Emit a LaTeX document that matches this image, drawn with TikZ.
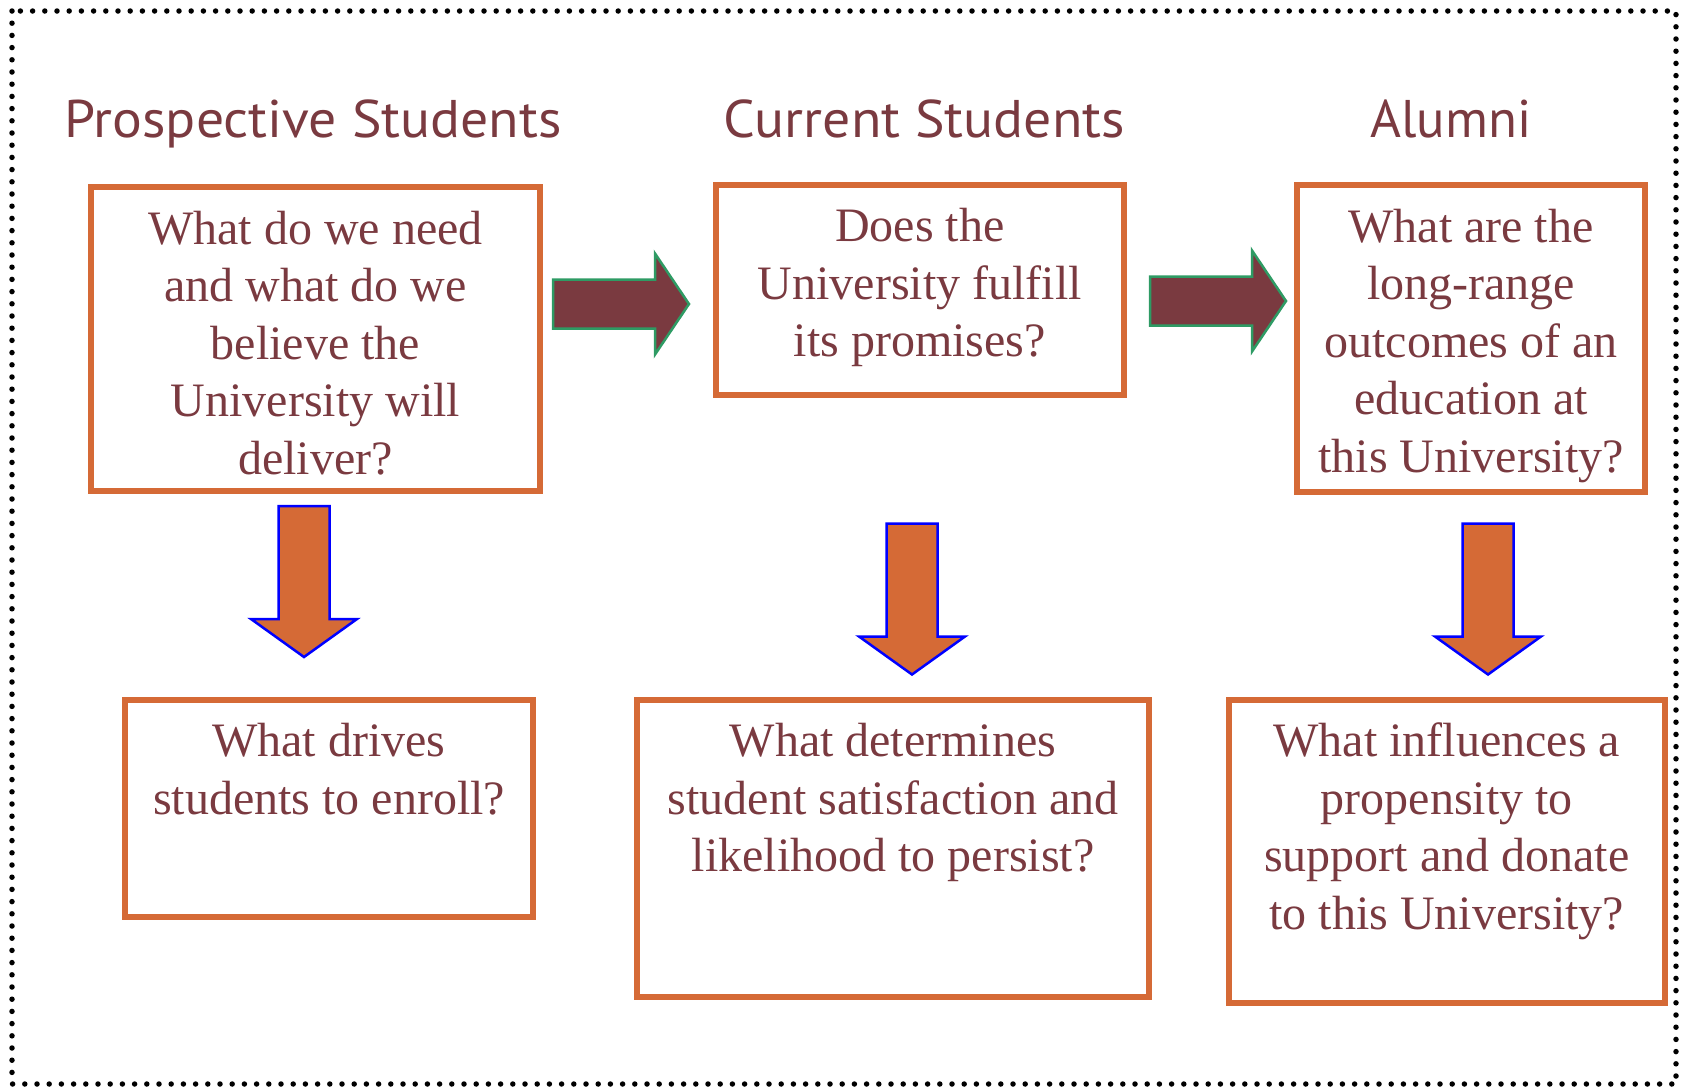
\documentclass[tikz,border=0pt]{standalone}
\usepackage{fontspec}
\usepackage{graphicx}
\setmainfont{Liberation Serif}
\newfontfamily\headfont{PT Sans}
\usetikzlibrary{calc}
\definecolor{wine}{RGB}{122,58,64}
\definecolor{rust}{RGB}{213,106,54}
\definecolor{leaf}{RGB}{46,155,100}
\definecolor{pureblue}{RGB}{0,0,255}
\newdimen\px \px=0.5pt
\newcommand{\headline}[2]{\resizebox{#1\px}{\height}{\headfont\fontsize{26.5}{30}\selectfont #2}}

\begin{document}
\begin{tikzpicture}[x=0.5pt,y=-0.5pt,
  qbox/.style={draw=rust, line width=3pt, inner sep=0pt},
  qtext/.style={text=wine, font=\fontsize{24}{28.75}\selectfont, align=center, anchor=north, inner sep=0pt},
  colhead/.style={text=wine, anchor=base, inner sep=0pt},
  flowarrow/.style={fill=wine, draw=leaf, line width=1.25pt, line join=miter},
  droparrow/.style={fill=rust, draw=pureblue, line width=1.25pt, line join=miter},
  rightblock/.pic={\path[flowarrow] (0,-24.5) -- (102,-24.5) -- (102,-50.5) -- (136,0)
      -- (102,50.5) -- (102,24.5) -- (0,24.5) -- cycle;},
  downblock/.pic={\path[droparrow] (-25.5,0) -- (25.5,0) -- (25.5,113) -- (53,113)
      -- (0,151) -- (-53,113) -- (-25.5,113) -- cycle;},
]
\useasboundingbox (0,0) rectangle (1683,1087);

% dotted frame
\draw[line width=2.75pt, line cap=round, dash pattern=on 0pt off 6.1pt] (12,11) rectangle (1676,1084);

% column headings
\node[colhead] (h1) at (313,137) {\headline{497}{Prospective Students}};
\node[colhead] (h2) at (924.5,137) {\headline{401}{Current Students}};
\node[colhead] (h3) at (1451,137) {\headline{161}{Alumni}};

% question boxes
\node[qbox, minimum width=224.5pt, minimum height=152pt] (b1) at (315.5,339) {};
\node[qbox, minimum width=203.75pt, minimum height=105.25pt] (b2) at (919.75,289.75) {};
\node[qbox, minimum width=174pt, minimum height=153.25pt] (b3) at (1471,338.25) {};
\node[qbox, minimum width=204pt, minimum height=108.75pt] (b4) at (329,808.25) {};
\node[qbox, minimum width=256pt, minimum height=148.75pt] (b5) at (893,848.25) {};
\node[qbox, minimum width=217.75pt, minimum height=151.75pt] (b6) at (1446.75,851.25) {};

% box texts
\node[qtext] (t1) at ($(b1.north)+(0,19.5)$) {\strut What do we need\\and what do we\\believe the\\University will\\deliver?};
\node[qtext] (t2) at ($(b2.north)+(0,19.5)$) {\strut Does the\\University fulfill\\its promises?};
\node[qtext] (t3) at ($(b3.north)+(0,19.5)$) {\strut What are the\\long-range\\outcomes of an\\education at\\this University?};
\node[qtext] (t4) at ($(b4.north)+(0,19.5)$) {\strut What drives\\students to enroll?};
\node[qtext] (t5) at ($(b5.north)+(0,19.5)$) {\strut What determines\\student satisfaction and\\likelihood to persist?};
\node[qtext] (t6) at ($(b6.north)+(0,19.5)$) {\strut What influences a\\propensity to\\support and donate\\to this University?};

% block arrows between the stages
\pic (r1) at (553,304) {rightblock};
\pic (r2) at (1150,301) {rightblock};
\pic (d1) at (304,506) {downblock};
\pic (d2) at (912,523.5) {downblock};
\pic (d3) at (1488,523.5) {downblock};
\end{tikzpicture}
\end{document}
